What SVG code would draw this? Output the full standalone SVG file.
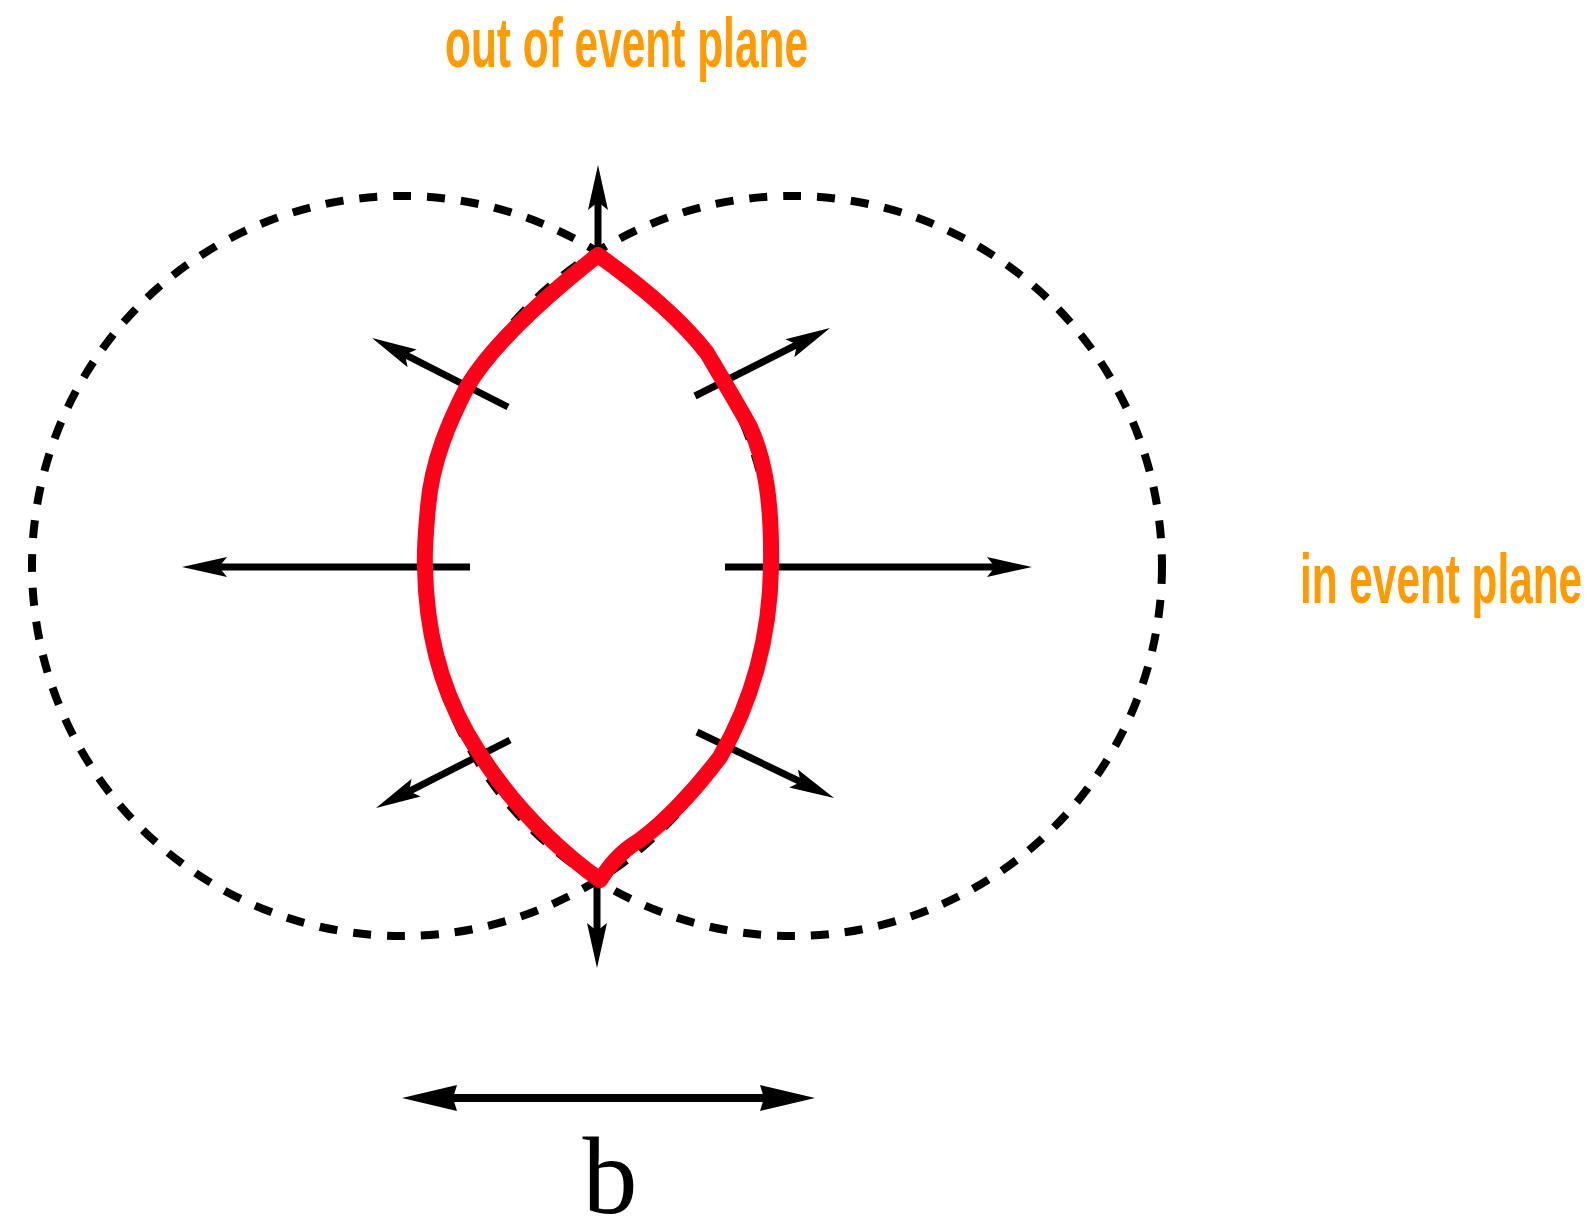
<svg xmlns="http://www.w3.org/2000/svg" width="1594" height="1220" viewBox="0 0 1594 1220">
<style>
.lbl{font-family:"Liberation Sans",Arial,sans-serif;font-size:70px;font-weight:bold;fill:#FF9A00}
.dash{fill:none;stroke:#000;stroke-width:8;stroke-dasharray:18 16}
.arr{stroke:#000;stroke-width:7;fill:none;marker-end:url(#ah)}
.lens{fill:none;stroke:#FF0019;stroke-width:16;stroke-linejoin:round;stroke-linecap:round}
</style>
<defs>
<marker id="ah" markerUnits="userSpaceOnUse" viewBox="-10 -12 50 24" refX="0" refY="0" markerWidth="50" markerHeight="24" orient="auto" overflow="visible">
<path d="M37,0 L-8,-10 L0,0 L-8,10 Z" fill="#000"/>
</marker>
<marker id="bh" markerUnits="userSpaceOnUse" viewBox="-6 -14 58 28" refX="0" refY="0" markerWidth="58" markerHeight="28" orient="auto-start-reverse" overflow="visible">
<path d="M51,0 L-4,-13 L0,0 L-4,13 Z" fill="#000"/>
</marker>
</defs>
<rect width="1594" height="1220" fill="#fff"/>
<g id="nuclei">
<circle class="dash" cx="402" cy="566" r="370"/>
<circle class="dash" cx="792" cy="566" r="370"/>
</g>
<g id="connectors">
<line class="arr" x1="598" y1="252" x2="598" y2="202"/>
<line class="arr" x1="597" y1="880" x2="597" y2="931"/>
<line class="arr" x1="470" y1="567" x2="219" y2="567"/>
<line class="arr" x1="725" y1="567" x2="995" y2="567"/>
<line class="arr" x1="508" y1="407" x2="405" y2="354.7"/>
<line class="arr" x1="695" y1="396" x2="797" y2="344.6"/>
<line class="arr" x1="510" y1="740" x2="409" y2="791.3"/>
<line class="arr" x1="697" y1="732" x2="800.7" y2="781.9"/>
<line x1="453" y1="1098" x2="764" y2="1098" stroke="#000" stroke-width="8" marker-start="url(#bh)" marker-end="url(#bh)"/>
</g>
<g id="overlap">
<path class="lens" d="M598,255 C560,285 495,340 467,387 C450,420 432,460 428,507 C426,530 424,550 425,567 C426,630 440,685 467,733 C500,790 545,840 600,880 C610,865 620,852 640,840 C665,822 695,790 720,757 C750,705 770,640 771,567 C772,500 765,460 750,427 C735,400 720,375 707,353 C680,318 640,285 598,255 Z"/>
</g>
<g id="labels">
<text class="lbl" transform="translate(445,67) scale(0.606,1)" x="0" y="0" textLength="599" lengthAdjust="spacingAndGlyphs">out of event plane</text>
<text class="lbl" transform="translate(1300,603) scale(0.604,1)" x="0" y="0" textLength="467" lengthAdjust="spacingAndGlyphs">in event plane</text>
<text x="610" y="1213" text-anchor="middle" font-family="'Liberation Serif','Times New Roman',serif" font-size="110" fill="#000">b</text>
</g>
</svg>
